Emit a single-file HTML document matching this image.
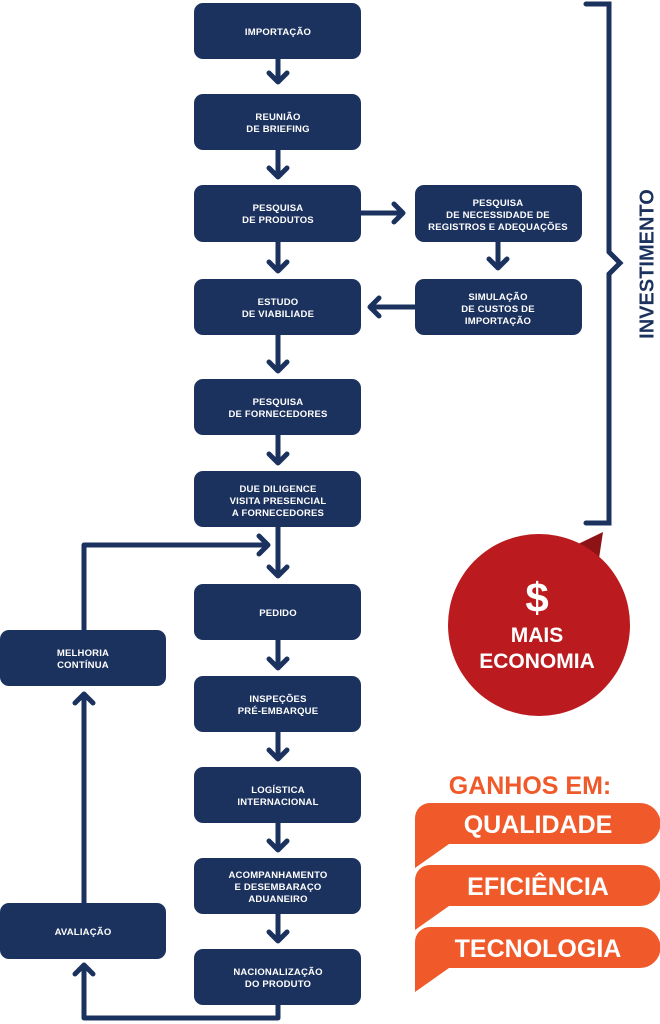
<!DOCTYPE html>
<html><head><meta charset="utf-8"><style>
html,body{margin:0;padding:0;background:#fff;}
svg{display:block;}
.b{fill:#1c325e;}
.t{font-family:"Liberation Sans",sans-serif;font-weight:bold;font-size:9.5px;fill:#fff;text-anchor:middle;letter-spacing:0.2px;}
.a{fill:none;stroke:#1c325e;stroke-width:5;stroke-linecap:round;stroke-linejoin:round;}
.o{font-family:"Liberation Sans",sans-serif;font-weight:bold;text-anchor:middle;}
</style></head><body>
<svg width="660" height="1024" viewBox="0 0 660 1024" xmlns="http://www.w3.org/2000/svg">
<g class="b">
<rect x="194" y="3" width="167" height="56" rx="9"/>
<rect x="194" y="94" width="167" height="56" rx="9"/>
<rect x="194" y="185" width="167" height="57" rx="9"/>
<rect x="194" y="279" width="167" height="56" rx="9"/>
<rect x="194" y="379" width="167" height="56" rx="9"/>
<rect x="194" y="471" width="167" height="56" rx="9"/>
<rect x="194" y="584" width="167" height="56" rx="9"/>
<rect x="194" y="676" width="167" height="56" rx="9"/>
<rect x="194" y="767" width="167" height="56" rx="9"/>
<rect x="194" y="858" width="167" height="56" rx="9"/>
<rect x="194" y="949" width="167" height="56" rx="9"/>
<rect x="415" y="185" width="167" height="57" rx="9"/>
<rect x="415" y="279" width="167" height="56" rx="9"/>
<rect x="0" y="630" width="166" height="56" rx="9"/>
<rect x="0" y="903" width="166" height="56" rx="9"/>
</g>
<g class="t">
<text x="278" y="35">IMPORTAÇÃO</text>
<text x="278" y="120">REUNIÃO</text><text x="278" y="132">DE BRIEFING</text>
<text x="278" y="211">PESQUISA</text><text x="278" y="223">DE PRODUTOS</text>
<text x="278" y="305">ESTUDO</text><text x="278" y="317">DE VIABILIADE</text>
<text x="278" y="405">PESQUISA</text><text x="278" y="417">DE FORNECEDORES</text>
<text x="278" y="492">DUE DILIGENCE</text><text x="278" y="504">VISITA PRESENCIAL</text><text x="278" y="516">A FORNECEDORES</text>
<text x="278" y="616">PEDIDO</text>
<text x="278" y="702">INSPEÇÕES</text><text x="278" y="714">PRÉ-EMBARQUE</text>
<text x="278" y="793">LOGÍSTICA</text><text x="278" y="805">INTERNACIONAL</text>
<text x="278" y="878">ACOMPANHAMENTO</text><text x="278" y="890">E DESEMBARAÇO</text><text x="278" y="902">ADUANEIRO</text>
<text x="278" y="975">NACIONALIZAÇÃO</text><text x="278" y="987">DO PRODUTO</text>
<text x="498" y="206">PESQUISA</text><text x="498" y="218">DE NECESSIDADE DE</text><text x="498" y="230">REGISTROS E ADEQUAÇÕES</text>
<text x="498" y="300">SIMULAÇÃO</text><text x="498" y="312">DE CUSTOS DE</text><text x="498" y="324">IMPORTAÇÃO</text>
<text x="83" y="656">MELHORIA</text><text x="83" y="668">CONTÍNUA</text>
<text x="83" y="935">AVALIAÇÃO</text>
</g>
<g class="a">
<path d="M278 59V82M269 73L278 82L287 73"/>
<path d="M278 150V177M269 168L278 177L287 168"/>
<path d="M278 242V271M269 262L278 271L287 262"/>
<path d="M278 335V371M269 362L278 371L287 362"/>
<path d="M278 435V463M269 454L278 463L287 454"/>
<path d="M278 527V576M269 567L278 576L287 567"/>
<path d="M278 640V668M269 659L278 668L287 659"/>
<path d="M278 732V759M269 750L278 759L287 750"/>
<path d="M278 823V850M269 841L278 850L287 841"/>
<path d="M278 914V941M269 932L278 941L287 932"/>
<path d="M361 213H403M394 204L403 213L394 222"/>
<path d="M498 242V268M489 259L498 268L507 259"/>
<path d="M415 307H370M379 298L370 307L379 316"/>
<path d="M278 1005V1018H84V965M75 974L84 965L93 974"/>
<path d="M84 903V694M75 703L84 694L93 703"/>
<path d="M84 630V545H268M259 536L268 545L259 554"/>
</g>
<path d="M586 4H609V252L620 263L609 274V523H586" fill="none" stroke="#1c325e" stroke-width="5" stroke-linejoin="miter" stroke-linecap="round"/>
<text x="648" y="264" transform="rotate(-90 648 264)" class="o" style="font-size:20px;fill:#1c325e" dominant-baseline="middle">INVESTIMENTO</text>
<polygon points="576,545 603,532 598,565" fill="#8d1316"/>
<circle cx="539" cy="625" r="91" fill="#bb1b1f"/>
<text x="537" y="612" class="o" style="font-size:42px;fill:#fff">$</text>
<text x="537" y="642" class="o" style="font-size:21px;fill:#fff">MAIS</text>
<text x="537" y="668" class="o" style="font-size:21px;fill:#fff">ECONOMIA</text>
<text x="530" y="794" class="o" style="font-size:25px;fill:#f05a2a">GANHOS EM:</text>
<g fill="#f05a2a">
<path d="M430 803H640A20 20 0 0 1 640 844H449L415 868V818A15 15 0 0 1 430 803Z"/>
<path d="M430 865H640A20 20 0 0 1 640 906H449L415 930V880A15 15 0 0 1 430 865Z"/>
<path d="M430 927H640A20 20 0 0 1 640 968H449L415 992V942A15 15 0 0 1 430 927Z"/>
</g>
<g class="o" style="font-size:25px;fill:#fff">
<text x="538" y="833">QUALIDADE</text>
<text x="538" y="895">EFICIÊNCIA</text>
<text x="538" y="957">TECNOLOGIA</text>
</g>
</svg>
</body></html>
